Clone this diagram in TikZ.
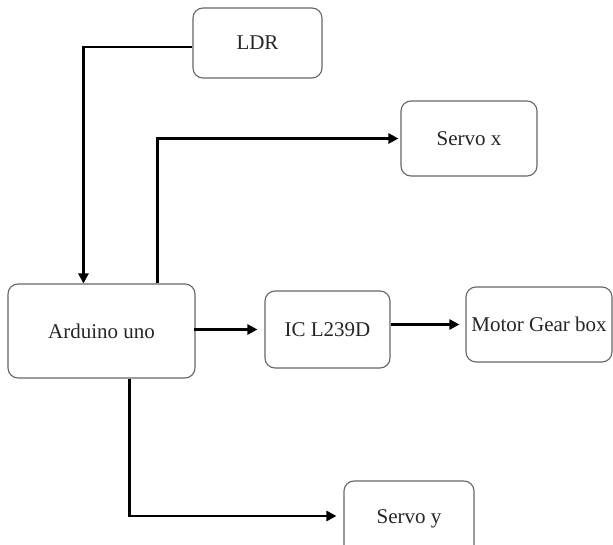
\documentclass[tikz,border=0pt]{standalone}
\usepackage{fontspec}
\setmainfont{Liberation Serif}
\usetikzlibrary{arrows.meta,calc}
\begin{document}
\begin{tikzpicture}[x=1pt,y=-1pt,
  blk/.style={draw=black!60, line width=1.1pt, rounded corners=10pt, fill=white,
    inner sep=0pt, text=black!85, font=\fontsize{21}{24}\selectfont},
  conn/.style={draw=black, line width=2.6pt, -{Triangle[length=10pt,width=10pt]}}]
\useasboundingbox (0,0) rectangle (613,545);
\clip (0,0) rectangle (613,545);
\fill[white] (0,0) rectangle (613,545);
\node[blk, minimum width=129pt, minimum height=70pt] (ldr) at (257.5,43) {LDR};
\node[blk, minimum width=136pt, minimum height=75pt] (sx) at (469,138.5) {Servo x};
\node[blk, minimum width=187pt, minimum height=94pt] (ard) at (101.5,331) {Arduino uno};
\node[blk, minimum width=125pt, minimum height=77pt] (ic) at (327.5,329.5) {IC L239D};
\node[blk, minimum width=146pt, minimum height=75pt] (mot) at (539,324.5) {Motor Gear box};
\node[blk, minimum width=130pt, minimum height=75pt] (sy) at (409,518.5) {Servo y};
% connectors
\coordinate (c1) at ($(ard.north west)+(76,0)$);
\draw[conn] ($(ldr.west)+(0,4)$) -| (c1);
\coordinate (c2) at ($(ard.north west)+(150,0)$);
\draw[conn, shorten >=2pt] (c2) |- (sx.west);
\draw[conn, shorten >=7pt] ($(ic.west -| ard.east)+(-2,0)$) -- (ic.west);
\draw[conn, shorten >=6pt] (mot.west -| ic.east) -- (mot.west);
\coordinate (c3) at ($(ard.south west)+(122,0)$);
\draw[conn, shorten >=7pt] (c3) |- ($(sy.west)+(0,-2.5)$);
\end{tikzpicture}
\end{document}
